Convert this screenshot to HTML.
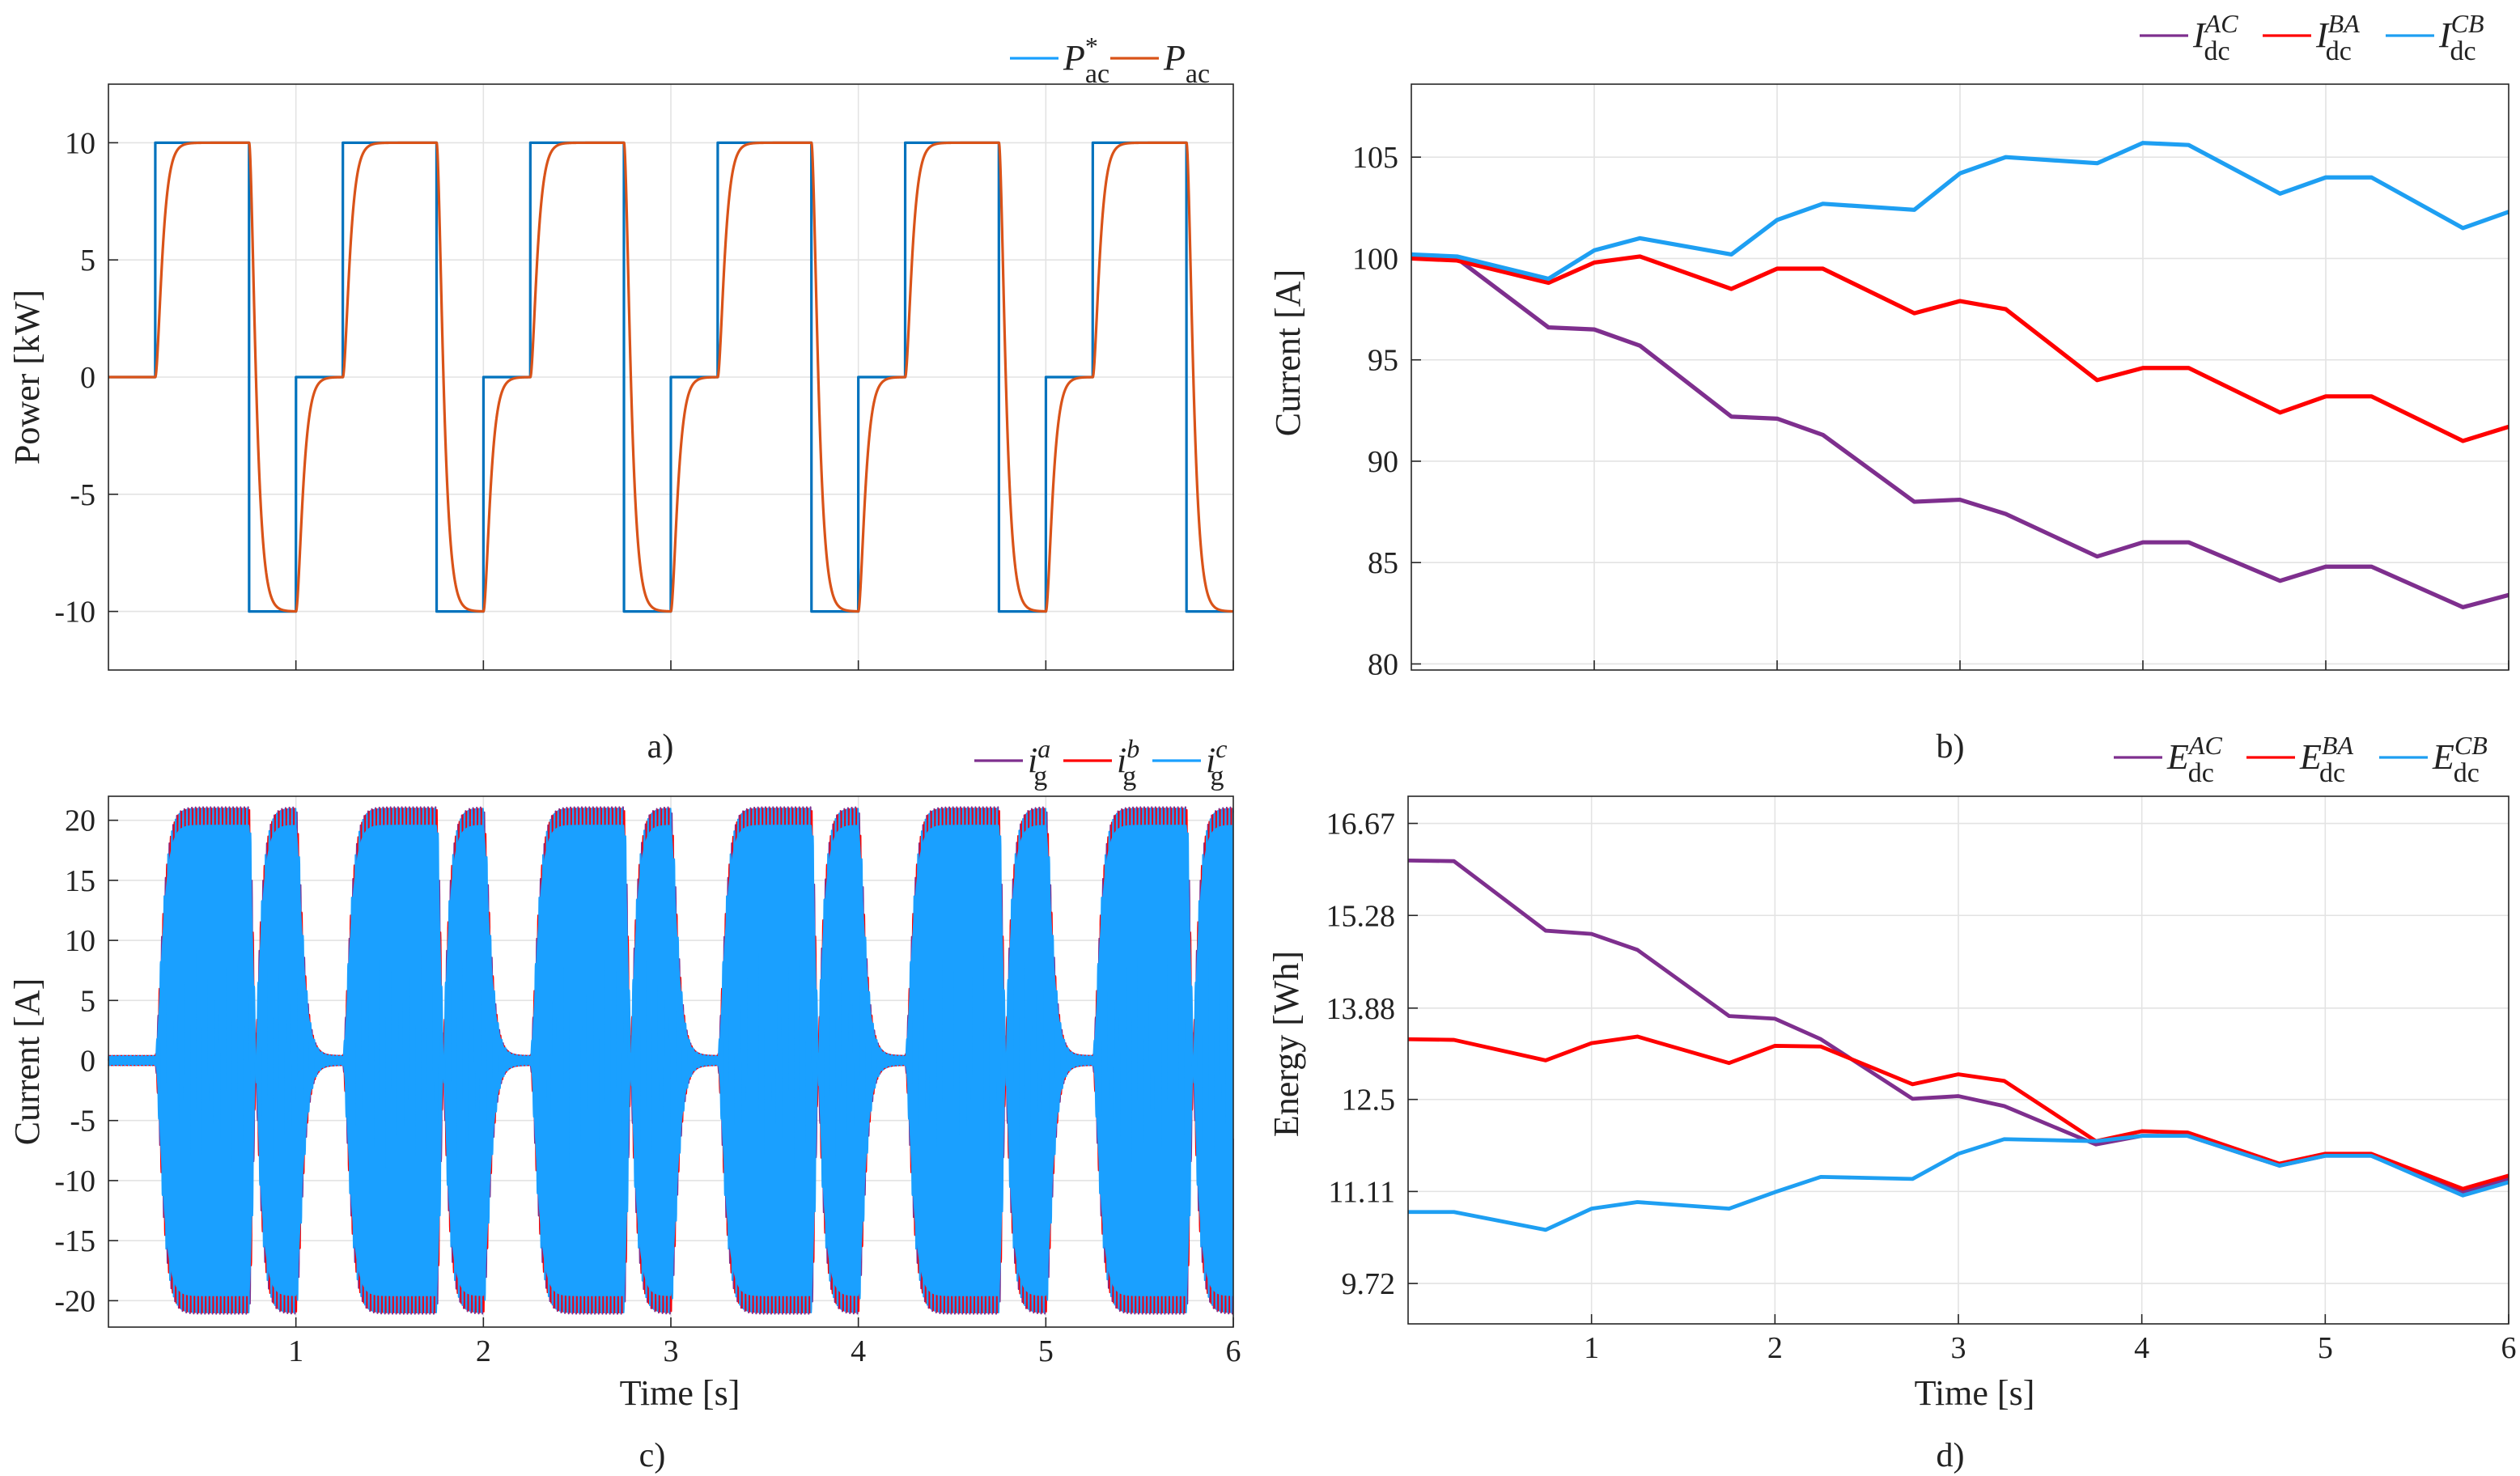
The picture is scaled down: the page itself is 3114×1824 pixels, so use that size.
<!DOCTYPE html>
<html><head><meta charset="utf-8"><style>
html,body{margin:0;padding:0;background:#fff}
svg{display:block}
text{font-family:"Liberation Serif",serif;fill:#222}
</style></head><body>
<svg id="fig" width="3114" height="1824" viewBox="0 0 1557 912" xmlns="http://www.w3.org/2000/svg">
</svg>
<script>
// ---- data ----
const stepTimes = [0,0.25,0.75,1,1.25,1.75,2,2.25,2.75,3,3.25,3.75,4,4.25,4.75,5,5.25,5.75,6];
const pRefLevels = [0,10,-10,0,10,-10,0,10,-10,0,10,-10,0,10,-10,0,10,-10,0];
const tB = [0,0.25,0.75,1,1.25,1.75,2,2.25,2.75,3,3.25,3.75,4,4.25,4.75,5,5.25,5.75,6];
const idcAC = [100.1,100,96.6,96.5,95.7,92.2,92.1,91.3,88,88.1,87.4,85.3,86,86,84.1,84.8,84.8,82.8,83.4];
const idcBA = [100,99.9,98.8,99.8,100.1,98.5,99.5,99.5,97.3,97.9,97.5,94,94.6,94.6,92.4,93.2,93.2,91,91.7];
const idcCB = [100.2,100.1,99,100.4,101,100.2,101.9,102.7,102.4,104.2,105,104.7,105.7,105.6,103.2,104,104,101.5,102.3];
const edcAC = [16.11,16.1,15.05,15.0,14.76,13.76,13.72,13.41,12.51,12.55,12.4,11.82,11.95,11.95,11.5,11.65,11.65,11.1,11.3];
const edcBA = [13.41,13.4,13.09,13.35,13.45,13.05,13.31,13.3,12.73,12.88,12.78,11.87,12.02,12.0,11.53,11.68,11.68,11.15,11.35];
const edcCB = [10.8,10.8,10.53,10.85,10.95,10.85,11.1,11.33,11.3,11.68,11.9,11.87,11.95,11.95,11.5,11.65,11.65,11.05,11.25];
const ticksA = [10,5,0,-5,-10];
const ticksB = [105,100,95,90,85,80];
const ticksC = [20,15,10,5,0,-5,-10,-15,-20];
const ticksD = [16.67,15.28,13.88,12.5,11.11,9.72];
const ticksX = [1,2,3,4,5,6];
const currentPeak = 20.7;

const NS="http://www.w3.org/2000/svg";
const svg=document.getElementById('fig');
function mk(tag,attrs,parent){const e=document.createElementNS(NS,tag);for(const k in attrs)e.setAttribute(k,attrs[k]);(parent||svg).appendChild(e);return e;}

function panel(name,x0,x1,y0,y1,ymin,ymax,yticks,xlabels){
  const g=mk('g',{});
  
  
  const sx=t=>x0+(t/6)*(x1-x0);
  const sy=v=>y1-(v-ymin)/(ymax-ymin)*(y1-y0);
  mk('rect',{x:x0,y:y0,width:x1-x0,height:y1-y0,fill:'#fff'},g);
  const grid=mk('g',{},g);
  
  
  ticksX.forEach(t=>{if(t<6)mk('line',{x1:sx(t),x2:sx(t),y1:y0,y2:y1,stroke:'#e3e3e3','stroke-width':0.8},grid);});
  yticks.forEach(v=>{mk('line',{x1:x0,x2:x1,y1:sy(v),y2:sy(v),stroke:'#e3e3e3','stroke-width':0.8},grid);
    const t=mk('text',{x:x0-8,y:sy(v)+6.5,'text-anchor':'end','font-size':19},g);t.textContent=(v===0?'0':String(v));
    
    mk('line',{x1:x0,x2:x0+6,y1:sy(v),y2:sy(v),stroke:'#262626','stroke-width':0.8},g);});
  ticksX.forEach(t=>{mk('line',{x1:sx(t),x2:sx(t),y1:y1,y2:y1-6,stroke:'#262626','stroke-width':0.8},g);
    if(xlabels){const tx=mk('text',{x:sx(t),y:y1+21,'text-anchor':'middle','font-size':19},g);tx.textContent=t;
      }});
  const plot=mk('g',{},g);
  const top=mk('g',{},g);
  mk('rect',{x:x0,y:y0,width:x1-x0,height:y1-y0,fill:'none',stroke:'#262626','stroke-width':0.8},g);
  return {g,sx,sy,plot,top,x0,x1};
}
function poly(p,ts,vs,color,w,name){
  const pts=ts.map((t,i)=>p.sx(t).toFixed(2)+','+p.sy(vs[i]).toFixed(2)).join(' ');
  const e=mk('polyline',{points:pts,fill:'none',stroke:color,'stroke-width':w,'stroke-linejoin':'round'},p.plot);
  
  
  return e;
}
function txt(x,y,s,size,name,extra){const t=mk('text',Object.assign({x:x,y:y,'font-size':size,'text-anchor':'middle'},extra||{}));t.textContent=s;
  return t;}
function ylabel(x,y,s,name){const t=txt(x,y,s,22,name,{transform:'rotate(-90 '+x+' '+y+')'});return t;}

function refAt(t){let v=0;for(let i=0;i<stepTimes.length;i++){if(t>=stepTimes[i])v=pRefLevels[i];}return v;}
const simT=[],simRef=[],simP=[];
(function(){const dt=0.0005;let y=0,yd=0;const wn=1/0.022;
  for(let t=0;t<=6.0001;t+=dt){const r=refAt(t);simT.push(t);simRef.push(r);simP.push(y);
    const ydd=wn*wn*(r-y)-2*wn*yd;yd+=ydd*dt;y+=yd*dt;}})();

// Panel a
const pa=panel('panel-a-power',67,762,52,414,-12.5,12.5,ticksA,false);
poly(pa,simT,simRef,'#0072BD',1.6,'pac-reference-line');
poly(pa,simT,simP,'#D95319',1.6,'pac-line');
ylabel(24,233,'Power [kW]','y-axis-title-a');
txt(408,468,'a)',21,'caption-a');

// Panel b
const pb=panel('panel-b-dc-current',872,1550,52,414,79.7,108.6,ticksB,false);
poly(pb,tB,idcAC,'#7E2F8E',2.6,'idc-ac-line');
poly(pb,tB,idcBA,'#FF0000',2.6,'idc-ba-line');
poly(pb,tB,idcCB,'#1E9FF2',2.6,'idc-cb-line');
ylabel(803,218,'Current [A]','y-axis-title-b');
txt(1205,468,'b)',21,'caption-b');

// Panel c
const pc=panel('panel-c-grid-current',67,762,492,820,-22.2,22,ticksC,true);
(function(){const f=50,n=[],a=[],b=[],c=[],env=[];const dt=1/(f*20);
  for(let t=0;t<=6;t+=dt){const idx=Math.min(simP.length-1,Math.round(t/0.0005));
    const A=currentPeak*Math.abs(simP[idx])/10+0.4;const w=2*Math.PI*f*t;
    n.push(t);env.push(A);a.push(A*Math.sin(w));b.push(A*Math.sin(w-2.094));c.push(A*Math.sin(w+2.094));}
  // dense envelope fill representing the overlapping blue phase
  let top=n.map((t,i)=>pc.sx(t).toFixed(2)+','+pc.sy(env[i]*0.93).toFixed(2));
  let bot=n.slice().reverse().map((t,j)=>{const i=n.length-1-j;return pc.sx(t).toFixed(2)+','+pc.sy(-env[i]*0.93).toFixed(2);});
  poly(pc,n,a,'#7E2F8E',1,'ig-a-line');poly(pc,n,b,'#FF0000',1,'ig-b-line');
  const f2=mk('polygon',{points:top.concat(bot).join(' '),fill:'#1AA0FF',stroke:'none'},pc.plot);
  
  poly(pc,n,c,'#1AA0FF',1,'ig-c-line');})();
ylabel(24,656,'Current [A]','y-axis-title-c');
txt(420,868,'Time [s]',22,'x-axis-title-c');
txt(403,906,'c)',21,'caption-c');

// Panel d
const pd=panel('panel-d-energy',870,1550,492,818,9.11,17.08,ticksD,true);
poly(pd,tB,edcAC,'#7E2F8E',2.4,'edc-ac-line');
poly(pd,tB,edcBA,'#FF0000',2.4,'edc-ba-line');
poly(pd,tB,edcCB,'#1E9FF2',2.4,'edc-cb-line');
ylabel(802,645,'Energy [Wh]','y-axis-title-d');
txt(1220,868,'Time [s]',22,'x-axis-title-d');
txt(1205,906,'d)',21,'caption-d');

// legends
function legend(name,x,y,items){
  const g=mk('g',{});
  let cx=x;
  items.forEach(it=>{
    const e=mk('g',{},g);
    mk('line',{x1:cx,x2:cx+30,y1:y,y2:y,stroke:it.c,'stroke-width':1.6},e);
    const t=mk('text',{x:cx+33,y:y+7,'font-size':22},e);
    const s1=mk('tspan',{'font-style':'italic'},t);s1.textContent=it.m;
    if(it.sup){
      const s2=mk('tspan',{'font-size':16,dy:-9,'font-style':it.supItalic?'italic':'normal'},t);s2.textContent=it.sup;
      const s3=mk('tspan',{'font-size':17,dx:-(it.sup.length*(it.supItalic?10.5:8)),dy:17},t);s3.textContent=it.sub;
    } else {
      const s3=mk('tspan',{'font-size':17,dy:8},t);s3.textContent=it.sub;
    }
    cx+=it.w;
  });
}
legend('legend-a',624,36,[{c:'#1AA0FF',m:'P',sup:'*',sub:'ac',w:62},{c:'#D95319',m:'P',sup:'',sub:'ac',w:60}]);
legend('legend-b',1322,22,[{c:'#7E2F8E',m:'I',sup:'AC',sub:'dc',supItalic:true,w:76},{c:'#FF0000',m:'I',sup:'BA',sub:'dc',supItalic:true,w:76},{c:'#1E9FF2',m:'I',sup:'CB',sub:'dc',supItalic:true,w:76}]);
legend('legend-c',602,470,[{c:'#7E2F8E',m:'i',sup:'a',sub:'g',supItalic:true,w:55},{c:'#FF0000',m:'i',sup:'b',sub:'g',supItalic:true,w:55},{c:'#1AA0FF',m:'i',sup:'c',sub:'g',supItalic:true,w:55}]);
legend('legend-d',1306,468,[{c:'#7E2F8E',m:'E',sup:'AC',sub:'dc',supItalic:true,w:82},{c:'#FF0000',m:'E',sup:'BA',sub:'dc',supItalic:true,w:82},{c:'#1E9FF2',m:'E',sup:'CB',sub:'dc',supItalic:true,w:82}]);
</script>
</body></html>
